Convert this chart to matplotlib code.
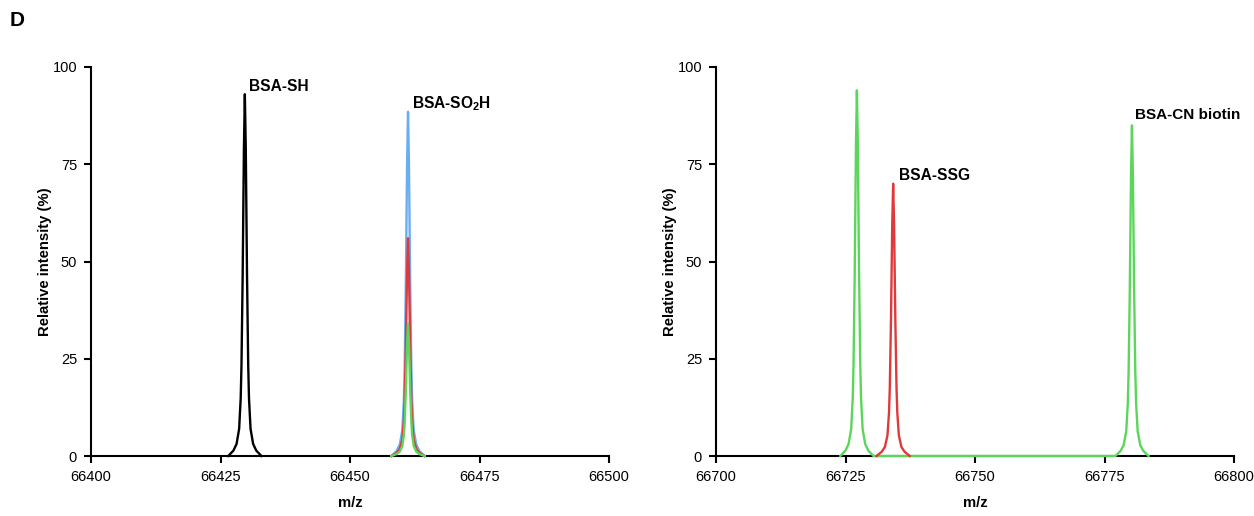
import matplotlib.pyplot as plt

plt.rcParams['font.family'] = ['Liberation Sans', 'DejaVu Sans']
plt.rcParams['mathtext.fontset'] = 'custom'
plt.rcParams['mathtext.rm'] = 'Liberation Sans'
plt.rcParams['mathtext.bf'] = 'Liberation Sans:bold'

# colours of the traces
c_black = '#000000'
c_blue = '#6aaef2'
c_red = '#e0393b'
c_green = '#5bd65b'

# ---- left panel: traces (m/z, relative intensity %)
sh_mz = [66426.5, 66427.5, 66428.1, 66428.6, 66428.9, 66429.05, 66429.28, 66429.52, 66429.7,
         66429.88, 66430.12, 66430.35, 66430.5, 66430.8, 66431.3, 66431.9, 66432.9]
sh_int = [0, 1.4, 3.1, 7, 14.9, 23.3, 46.5, 79, 93,
          79, 46.5, 23.3, 14.9, 7, 3.1, 1.4, 0]

so2h_mz = [66458.0, 66459.0, 66459.6, 66460.1, 66460.4, 66460.55, 66460.78, 66461.02, 66461.2,
           66461.38, 66461.62, 66461.85, 66462.0, 66462.3, 66462.8, 66463.4, 66464.4]
so2h_blue_int = [0, 1.3, 2.9, 6.6, 14.2, 22.1, 44.3, 75.2, 88.5,
                 75.2, 44.3, 22.1, 14.2, 6.6, 2.9, 1.3, 0]
so2h_red_int = [0, 0.8, 1.8, 4.2, 9, 14, 28, 47.6, 56,
                47.6, 28, 14, 9, 4.2, 1.8, 0.8, 0]
so2h_green_int = [0, 0.5, 1.1, 2.6, 5.4, 8.5, 17, 28.9, 34,
                  28.9, 17, 8.5, 5.4, 2.6, 1.1, 0.5, 0]

# ---- right panel
grn_mz = [66724.0, 66725.0, 66725.6, 66726.1, 66726.4, 66726.55, 66726.78, 66727.02, 66727.2,
          66727.38, 66727.62, 66727.85, 66728.0, 66728.3, 66728.8, 66729.4, 66730.4,
          66777.1, 66778.1, 66778.7, 66779.2, 66779.5, 66779.65, 66779.88, 66780.12, 66780.3,
          66780.48, 66780.72, 66780.95, 66781.1, 66781.4, 66781.9, 66782.5, 66783.5]
grn_int = [0, 1.4, 3.1, 7, 15, 23.5, 47, 80, 94,
           80, 47, 23.5, 15, 7, 3.1, 1.4, 0,
           0, 1.3, 2.8, 6.4, 13.6, 21.3, 42.5, 72.3, 85,
           72.3, 42.5, 21.3, 13.6, 6.4, 2.8, 1.3, 0]

ssg_mz = [66731.0, 66732.0, 66732.6, 66733.1, 66733.4, 66733.55, 66733.78, 66734.02, 66734.2,
          66734.38, 66734.62, 66734.85, 66735.0, 66735.3, 66735.8, 66736.4, 66737.4]
ssg_int = [0, 1.1, 2.3, 5.3, 11.2, 17.5, 35, 59.5, 70,
           59.5, 35, 17.5, 11.2, 5.3, 2.3, 1.1, 0]

left_ticks = [66400, 66425, 66450, 66475, 66500]
right_ticks = [66700, 66725, 66750, 66775, 66800]
y_ticks = [0, 25, 50, 75, 100]

fig = plt.figure(figsize=(12.54, 5.16), dpi=100)
ax1 = fig.add_axes([91/1254, 1-456/516, 518/1254, 389/516])
ax2 = fig.add_axes([716/1254, 1-456/516, 518/1254, 389/516])

lw = 1.7
ax1.plot(sh_mz, sh_int, color=c_black, lw=lw)
ax1.plot(so2h_mz, so2h_blue_int, color=c_blue, lw=lw)
ax1.plot(so2h_mz, so2h_red_int, color=c_red, lw=lw)
ax1.plot(so2h_mz, so2h_green_int, color=c_green, lw=lw)

ax2.plot(grn_mz, grn_int, color=c_green, lw=lw)
ax2.plot(ssg_mz, ssg_int, color=c_red, lw=lw)

for ax, ticks in [(ax1, left_ticks), (ax2, right_ticks)]:
    ax.set_xlim(ticks[0], ticks[-1])
    ax.set_ylim(0, 100)
    ax.set_xticks(ticks)
    ax.set_yticks(y_ticks)
    ax.spines['top'].set_visible(False)
    ax.spines['right'].set_visible(False)
    ax.spines['left'].set_linewidth(1.5)
    ax.spines['bottom'].set_linewidth(1.5)
    ax.spines['left'].set_zorder(0)
    ax.spines['bottom'].set_zorder(0)
    ax.tick_params(direction='out', length=5, width=1.5, labelsize=10.5, pad=5)
    ax.xaxis.get_major_formatter().set_useOffset(False)
    ax.set_xlabel('m/z', fontsize=10.7, fontweight='bold', labelpad=9)
    ax.set_ylabel('Relative intensity (%)', fontsize=10.7, fontweight='bold', labelpad=0)
    for t in ax.get_lines():
        t.set_clip_on(False)

ax1.text(66430.5, 95, 'BSA-SH', fontsize=11.2, fontweight='bold', va='center')
ax1.text(66462.0, 90.5, r'BSA-SO$_\mathbf{2}$H', fontsize=11.2, fontweight='bold', va='center')
ax2.text(66735.3, 72.2, 'BSA-SSG', fontsize=11.2, fontweight='bold', va='center')
ax2.text(66780.9, 87.7, 'BSA-CN biotin', fontsize=11.0, fontweight='bold', va='center')

fig.text(10/1254, 1-21/516, 'D', fontsize=15, fontweight='bold', va='center')

plt.savefig('out.png', dpi=100)
